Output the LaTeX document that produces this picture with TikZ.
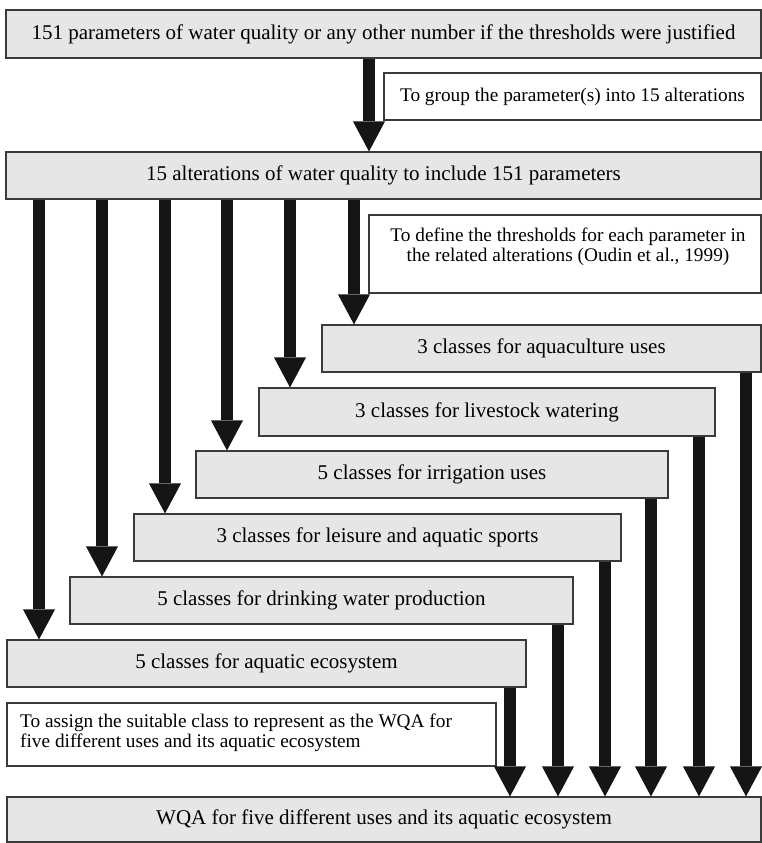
\documentclass[tikz,border=0pt]{standalone}
\usepackage{fontspec}
\setmainfont{Liberation Serif}
\newfontfamily\timesfam{Liberation Serif}
\usetikzlibrary{arrows.meta}
\definecolor{boxgray}{HTML}{E6E6E6}
\definecolor{edgegray}{HTML}{3A3A3A}
\definecolor{arrowblk}{HTML}{151515}
\newcommand{\mainsz}{\timesfam\fontsize{21pt}{24pt}\selectfont}
\newcommand{\notesz}{\timesfam\fontsize{19.3pt}{20.5pt}\selectfont}
\begin{document}
\begin{tikzpicture}[x=1pt,y=-1pt,
  gbox/.style={draw=edgegray, line width=1.1pt, fill=boxgray, inner sep=0pt, font=\mainsz},
  wbox/.style={draw=edgegray, line width=1.1pt, fill=white, inner sep=0pt},
  notetext/.style={font=\notesz, inner sep=0pt},
  bigarrow/.style={draw=arrowblk, line width=12pt, -{Triangle[width=32pt,length=30pt,line width=0pt]}}]
\useasboundingbox (0,0) rectangle (762,843);
% boxes
\node[gbox, minimum width=755pt, minimum height=48pt] (top) at (383.5,34) {151 parameters of water quality or any other number if the thresholds were justified};
\node[wbox, minimum width=377pt, minimum height=47pt, font=\notesz] (grp) at (572.5,96.5) {To group the parameter(s) into 15 alterations};
\node[gbox, minimum width=755pt, minimum height=47pt] (alt) at (383.5,175.5) {15 alterations of water quality to include 151 parameters};
\node[wbox, minimum width=392pt, minimum height=78pt] (def) at (565,254) {};
\node[notetext, align=center] (deftxt) at (568,247) {To define the thresholds for each parameter in\\the related alterations (Oudin et al., 1999)};
\node[gbox, minimum width=439pt, minimum height=47pt] (aqc) at (541.5,348.5) {3 classes for aquaculture uses};
\node[gbox, minimum width=456pt, minimum height=48pt] (liv) at (487,412) {3 classes for livestock watering};
\node[gbox, minimum width=472pt, minimum height=47pt] (irr) at (432,474.5) {5 classes for irrigation uses};
\node[gbox, minimum width=487pt, minimum height=47pt] (lei) at (377.5,537.5) {3 classes for leisure and aquatic sports};
\node[gbox, minimum width=503pt, minimum height=47pt] (drk) at (321.5,600.5) {5 classes for drinking water production};
\node[gbox, minimum width=519pt, minimum height=47pt] (eco) at (266.5,663.5) {5 classes for aquatic ecosystem};
\node[wbox, minimum width=489pt, minimum height=63pt] (asg) at (251.5,734.5) {};
\node[notetext, align=left, anchor=west] (asgtxt) at (20,733) {To assign the suitable class to represent as the WQA for\\five different uses and its aquatic ecosystem};
\node[gbox, minimum width=754pt, minimum height=45pt] (wqa) at (384,819.5) {WQA for five different uses and its aquatic ecosystem};
% arrow x positions
\coordinate (c0) at (369,0);
\coordinate (l1) at (39,0);
\coordinate (l2) at (102,0);
\coordinate (l3) at (165,0);
\coordinate (l4) at (227,0);
\coordinate (l5) at (290,0);
\coordinate (l6) at (354,0);
\coordinate (r1) at (510,0);
\coordinate (r2) at (558,0);
\coordinate (r3) at (605,0);
\coordinate (r4) at (651,0);
\coordinate (r5) at (699,0);
\coordinate (r6) at (746,0);
% arrows
\draw[bigarrow] (top.south -| c0) -- (alt.north -| c0);
\draw[bigarrow] (alt.south -| l6) -- (aqc.north -| l6);
\draw[bigarrow] (alt.south -| l5) -- (liv.north -| l5);
\draw[bigarrow] (alt.south -| l4) -- (irr.north -| l4);
\draw[bigarrow] (alt.south -| l3) -- (lei.north -| l3);
\draw[bigarrow] (alt.south -| l2) -- (drk.north -| l2);
\draw[bigarrow] (alt.south -| l1) -- (eco.north -| l1);
\draw[bigarrow] (eco.south -| r1) -- (wqa.north -| r1);
\draw[bigarrow] (drk.south -| r2) -- (wqa.north -| r2);
\draw[bigarrow] (lei.south -| r3) -- (wqa.north -| r3);
\draw[bigarrow] (irr.south -| r4) -- (wqa.north -| r4);
\draw[bigarrow] (liv.south -| r5) -- (wqa.north -| r5);
\draw[bigarrow] (aqc.south -| r6) -- (wqa.north -| r6);
\end{tikzpicture}
\end{document}
